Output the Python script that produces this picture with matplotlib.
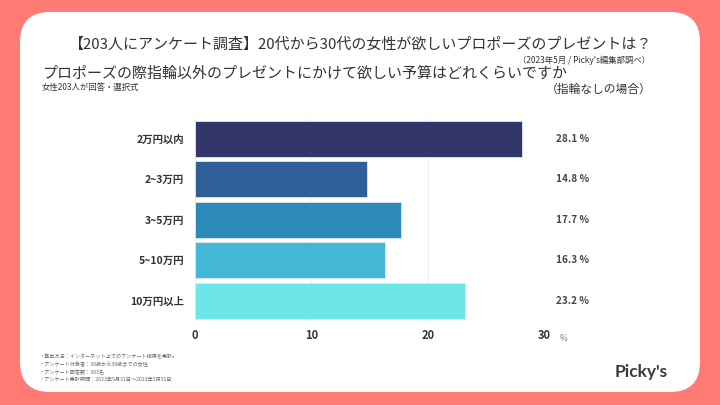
import matplotlib.pyplot as plt
from matplotlib.patches import FancyBboxPatch
from matplotlib.transforms import blended_transform_factory

plt.rcParams["font.family"] = ["Noto Sans CJK JP", "DejaVu Sans"]

categories = ["2万円以内", "2~3万円", "3~5万円", "5~10万円", "10万円以上"]
values = [28.1, 14.8, 17.7, 16.3, 23.2]
colors = ["#32366B", "#2E5F96", "#2D8AB8", "#42B7D6", "#6DE6EA"]
xticks = [0, 10, 20, 30]

title = "【203人にアンケート調査】20代から30代の女性が欲しいプロポーズのプレゼントは？"
source = "（2023年5月 / Picky's編集部調べ）"
question = "プロポーズの際指輪以外のプレゼントにかけて欲しい予算はどれくらいですか"
respondents = "女性203人が回答・選択式"
condition = "（指輪なしの場合）"
notes = [
    "・算出方法：インターネット上でのアンケート結果を集計。",
    "・アンケート対象者：20歳から39歳までの女性",
    "・アンケート回答数：203名",
    "・アンケート集計期間：2023年5月31日〜2023年5月31日",
]

fig = plt.figure(figsize=(7.2, 4.05), dpi=100)
fig.patch.set_facecolor("#FF7B74")

# white rounded card behind everything
card = FancyBboxPatch(
    (0.2, 0.13), 6.8, 3.8,
    boxstyle="round,pad=0,rounding_size=0.3",
    transform=fig.dpi_scale_trans,
    facecolor="white", edgecolor="none", zorder=-10,
)
fig.patches.append(card)

ax = fig.add_axes([195 / 720, 1 - 321 / 405, 349 / 720, 202.5 / 405])
ax.set_facecolor("none")
ax.set_zorder(5)

y = list(range(len(categories)))
ax.barh(y, values, height=0.89, color=colors, edgecolor="#DDEAF3",
        linewidth=0.6, zorder=3)
ax.set_ylim(len(categories) - 0.5, -0.5)
ax.set_xlim(0, 30)
ax.set_yticks(y)
ax.set_yticklabels(categories, fontsize=7.5, color="#333333",
                   fontweight="bold")
ax.set_xticks(xticks)
ax.set_xticklabels([str(t) for t in xticks], fontsize=8, color="#333333",
                   fontweight="bold")
ax.tick_params(length=0, pad=6)
ax.tick_params(axis="y", pad=8)
ax.grid(axis="x", color="#EEEEF2", linewidth=0.8, zorder=0)
for s in ax.spines.values():
    s.set_visible(False)

trans = blended_transform_factory(ax.transAxes, ax.transData)
for yi, v in zip(y, values):
    ax.text(1.034, yi, f"{v:.1f} %", transform=trans, ha="left", va="center",
            fontsize=7.2, color="#444444", fontweight="bold")
ax.text(1.045, -0.085, "%", transform=ax.transAxes, ha="left", va="center",
        fontsize=6, color="#777777")

fig.text(0.5, 1 - 45 / 405, title, ha="center", va="center",
         fontsize=10.8, color="#333333")
fig.text(650 / 720, 1 - 60 / 405, source, ha="right", va="center",
         fontsize=6, color="#333333")
fig.text(42 / 720, 1 - 74 / 405, question, ha="left", va="center",
         fontsize=10.8, color="#333333")
fig.text(42 / 720, 1 - 87 / 405, respondents, ha="left", va="center",
         fontsize=6, color="#333333")
fig.text(652 / 720, 1 - 89 / 405, condition, ha="right", va="center",
         fontsize=8.5, color="#333333")

for i, line in enumerate(notes):
    fig.text(40 / 720, 1 - (357 + i * 7.7) / 405, line, ha="left",
             va="center", fontsize=3.7, color="#666666")

fig.text(668 / 720, 1 - 372 / 405, "Picky's", ha="right", va="center",
         fontsize=12.5, fontweight="bold", color="#3A3A3A",
         family=["Lato", "DejaVu Sans"])

fig.savefig("out.png", dpi=100, facecolor=fig.get_facecolor())
